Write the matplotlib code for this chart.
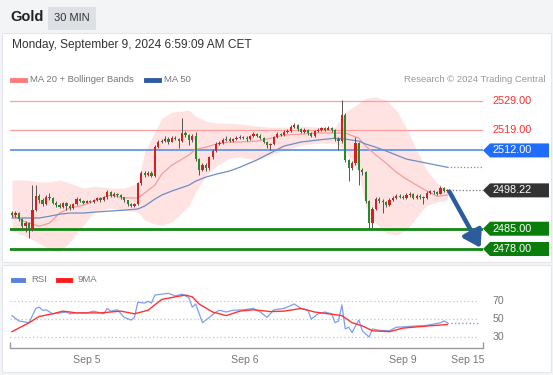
import matplotlib
matplotlib.use("Agg")
import matplotlib.pyplot as plt
from matplotlib.patches import Rectangle, Polygon
from matplotlib.lines import Line2D
from matplotlib.transforms import blended_transform_factory

plt.rcParams['font.family'] = ['Liberation Sans', 'DejaVu Sans']

# 30 min candles, index 0 = first visible bar
first_open = 2490.3
closes = [2489.8, 2490.5, 2488.2, 2486.0, 2486.8, 2484.6, 2491.5, 2496.2, 2495.0, 2493.6,
          2496.0, 2495.6, 2494.0, 2493.2, 2492.6, 2493.8, 2493.0, 2492.3, 2493.5, 2495.2,
          2494.6, 2494.0, 2494.6, 2494.2, 2495.0, 2495.7, 2494.8, 2495.8, 2497.6, 2496.3,
          2496.9, 2496.5, 2495.8, 2494.8, 2493.5, 2493.0, 2493.5, 2500.6, 2504.2, 2503.6,
          2504.3, 2503.2, 2513.2, 2515.0, 2515.4, 2516.1, 2515.0, 2516.3, 2516.0, 2515.3,
          2518.0, 2517.2, 2515.6, 2517.1, 2509.0, 2505.4, 2507.0, 2505.8, 2509.6, 2511.9,
          2514.1, 2514.6, 2515.7, 2516.1, 2515.4, 2515.9, 2516.4, 2516.7, 2516.3, 2516.0,
          2516.9, 2517.6, 2517.1, 2516.3, 2515.0, 2513.7, 2514.1, 2516.6, 2517.7, 2517.3,
          2518.3, 2518.7, 2520.1, 2520.6, 2519.3, 2518.4, 2519.1, 2518.0, 2517.0, 2518.6,
          2519.1, 2519.6, 2519.2, 2519.7, 2519.0, 2516.0, 2515.1, 2524.3, 2508.6, 2506.1,
          2507.6, 2514.4, 2505.1, 2504.6, 2494.6, 2487.1, 2491.8, 2495.4, 2494.6, 2494.1,
          2493.2, 2494.9, 2495.7, 2496.4, 2496.1, 2495.7, 2496.6, 2496.9, 2495.6, 2496.3,
          2495.9, 2495.6, 2497.3, 2497.9, 2497.6, 2497.1, 2499.0, 2498.1, 2498.22]
highs = [2491.0, 2491.2, 2490.9, 2488.6, 2487.5, 2487.2, 2500.0, 2500.0, 2496.8, 2495.5,
         2496.6, 2497.2, 2496.0, 2494.5, 2493.8, 2494.2, 2494.2, 2493.4, 2494.0, 2495.8,
         2495.6, 2494.9, 2495.0, 2495.0, 2495.4, 2496.1, 2496.0, 2496.3, 2498.4, 2498.0,
         2497.5, 2497.2, 2497.0, 2496.0, 2495.0, 2493.9, 2494.0, 2501.2, 2504.8, 2504.8,
         2504.9, 2504.8, 2513.8, 2515.6, 2516.0, 2516.8, 2516.5, 2516.9, 2516.8, 2516.4,
         2523.2, 2518.6, 2517.8, 2517.8, 2518.3, 2509.4, 2507.6, 2507.5, 2510.2, 2512.5,
         2514.8, 2515.3, 2516.3, 2516.9, 2516.5, 2516.4, 2517.0, 2517.2, 2517.1, 2516.8,
         2517.4, 2518.4, 2518.0, 2517.5, 2516.6, 2515.3, 2514.6, 2517.1, 2518.2, 2518.1,
         2518.9, 2519.4, 2520.8, 2521.6, 2521.0, 2519.8, 2519.7, 2519.5, 2518.4, 2519.1,
         2519.8, 2520.2, 2520.1, 2520.3, 2520.2, 2519.4, 2516.5, 2529.3, 2524.8, 2509.0,
         2508.3, 2516.5, 2514.9, 2505.8, 2505.0, 2495.0, 2492.4, 2496.0, 2496.1, 2495.2,
         2494.6, 2495.5, 2496.4, 2497.0, 2496.8, 2496.5, 2497.2, 2497.5, 2497.3, 2496.9,
         2496.8, 2496.4, 2497.9, 2498.5, 2498.4, 2498.0, 2499.9, 2499.4, 2498.7]
lows = [2489.0, 2489.2, 2487.6, 2485.2, 2484.0, 2481.8, 2484.2, 2491.0, 2494.0, 2493.0,
        2493.2, 2495.0, 2493.5, 2492.6, 2492.0, 2492.2, 2491.3, 2491.5, 2491.9, 2493.2,
        2494.1, 2493.6, 2493.7, 2493.8, 2493.9, 2494.7, 2494.3, 2494.5, 2495.4, 2495.9,
        2495.9, 2496.0, 2495.2, 2494.2, 2493.0, 2492.5, 2492.6, 2493.2, 2500.2, 2503.0,
        2503.2, 2502.8, 2503.0, 2512.8, 2514.5, 2515.0, 2514.2, 2514.8, 2515.5, 2512.8,
        2515.0, 2516.5, 2514.0, 2515.0, 2508.5, 2503.6, 2504.8, 2505.0, 2505.4, 2509.2,
        2511.5, 2513.7, 2514.2, 2515.3, 2514.9, 2515.0, 2515.5, 2516.0, 2515.8, 2515.4,
        2515.7, 2516.5, 2516.6, 2515.8, 2514.5, 2512.9, 2512.0, 2513.8, 2516.2, 2516.8,
        2516.9, 2517.9, 2518.3, 2519.8, 2518.8, 2517.9, 2518.0, 2517.4, 2516.5, 2516.7,
        2518.2, 2518.8, 2518.7, 2518.9, 2518.4, 2515.4, 2512.3, 2514.7, 2508.0, 2501.5,
        2505.2, 2506.8, 2500.0, 2503.5, 2494.0, 2485.0, 2485.1, 2491.4, 2494.0, 2490.4,
        2492.6, 2492.8, 2494.4, 2495.3, 2495.6, 2495.1, 2495.3, 2496.1, 2495.1, 2495.2,
        2495.4, 2493.5, 2495.3, 2497.0, 2497.1, 2496.6, 2496.8, 2497.6, 2497.8]

# MA 20, Bollinger bands and MA 50 read at these bars
band_idx = [0, 4, 8, 11, 14, 17, 21, 24, 29, 33, 37, 39, 42, 44, 47, 52, 54, 57, 60, 64,
            67, 72, 76, 80, 85, 90, 95, 98, 102, 104, 107, 110, 113, 116, 119, 122, 125, 128]
bb_upper = [2501.8, 2501.8, 2501.1, 2501.1, 2501.8, 2500.7, 2499.0, 2499.7, 2499.0, 2499.0,
            2500.7, 2511.4, 2518.3, 2523.1, 2525.2, 2525.9, 2523.8, 2522.1, 2521.4, 2521.4,
            2521.1, 2520.4, 2520.0, 2520.0, 2520.4, 2520.0, 2520.0, 2525.2, 2528.3, 2530.0,
            2530.4, 2529.3, 2525.9, 2519.7, 2512.1, 2505.2, 2500.7, 2499.0]
bb_lower = [2484.5, 2482.4, 2480.0, 2477.6, 2476.9, 2480.4, 2486.2, 2490.7, 2492.1, 2491.4,
            2490.7, 2488.0, 2486.6, 2486.2, 2487.3, 2492.8, 2497.6, 2503.1, 2506.6, 2509.3,
            2509.7, 2508.7, 2510.4, 2512.1, 2513.8, 2514.5, 2514.5, 2512.1, 2504.2, 2492.4,
            2486.9, 2483.5, 2482.8, 2484.5, 2489.0, 2493.1, 2494.2, 2494.9]
ma20 = [2489.7, 2487.3, 2485.9, 2486.9, 2490.4, 2492.1, 2493.1, 2494.5, 2496.6, 2495.6,
        2495.6, 2497.3, 2500.0, 2503.8, 2506.9, 2510.4, 2512.4, 2513.1, 2514.2, 2514.9,
        2514.9, 2515.2, 2516.2, 2517.3, 2517.6, 2518.0, 2518.0, 2518.0, 2516.2, 2513.5,
        2510.4, 2507.6, 2504.5, 2502.1, 2500.0, 2498.0, 2496.2, 2496.6]
ma50 = [2488.7, 2488.7, 2488.7, 2489.3, 2490.0, 2490.4, 2490.4, 2490.7, 2491.1, 2491.4,
        2491.8, 2492.8, 2495.2, 2496.6, 2498.0, 2500.0, 2501.4, 2502.8, 2503.8, 2504.9,
        2506.2, 2508.7, 2511.1, 2513.5, 2514.9, 2515.6, 2516.2, 2515.9, 2515.2, 2514.2,
        2513.1, 2511.8, 2510.4, 2509.0, 2508.3, 2507.6, 2506.9, 2506.2]

# RSI and its 9 period MA
rsi_idx = [0, 2, 5, 7, 8, 9, 10, 12, 14, 16, 17, 19, 22, 24, 27, 28, 29, 31, 33, 35,
           36, 37, 39, 40, 41, 42, 44, 46, 48, 50, 52, 53, 54, 56, 58, 60, 61, 63, 65, 68,
           71, 73, 75, 77, 80, 83, 85, 87, 88, 90, 92, 94, 95, 96, 97, 98, 99, 100, 101, 102,
           103, 105, 106, 108, 111, 113, 116, 119, 121, 124, 126, 127, 128]
rsi_val = [54, 48, 46, 62, 63.5, 60, 60.5, 56, 57, 58, 56, 57, 57, 59, 56, 62, 59, 60.5, 52, 49,
           52, 69, 68, 70, 68, 77, 78, 79, 76, 78, 74, 63.5, 67, 46, 52, 58, 60, 58, 60, 60.5,
           62, 58, 52, 60.5, 62, 67, 62, 60, 50, 56, 58, 56, 46, 48, 66, 39, 41, 35, 42.5, 49,
           37, 30, 39, 37.5, 37, 41, 41.5, 42.5, 42.5, 44.5, 46, 48, 46]
rsi_ma_idx = [0, 5, 8, 12, 15, 19, 26, 32, 36, 40, 44, 48, 51, 53, 55, 59, 63, 67, 71, 76,
              80, 85, 89, 93, 97, 100, 103, 106, 111, 115, 121, 128]
rsi_ma_val = [36, 46, 53, 56, 59, 57, 57, 59, 56, 60, 72, 75, 77, 75, 67, 58, 54, 59, 60.5, 58.5,
              59, 62, 58, 56, 54, 46, 42.5, 37, 36, 40, 42, 44]

resistances = [2529.00, 2519.00]
pivot = 2512.00
supports = [2485.00, 2478.00]
last_price = 2498.22
date_ticks = [22, 68.5, 115, 134]
date_labels = ['Sep 5', 'Sep 6', 'Sep 9', 'Sep 15']

W, H = 553, 375
fig = plt.figure(figsize=(W / 100, H / 100), dpi=100)
fig.patch.set_facecolor('#f3f4f6')


def fx(px):
    return px / W


def fy(px):
    return 1 - px / H


# white cards behind the axes
fig.patches.append(Rectangle((fx(2), fy(262)), fx(549), 229 / H, transform=fig.transFigure,
                             facecolor='white', edgecolor='#e3e6ea', lw=0.8, zorder=-5))
fig.patches.append(Rectangle((fx(2), fy(372)), fx(549), 107 / H, transform=fig.transFigure,
                             facecolor='white', edgecolor='#e3e6ea', lw=0.8, zorder=-5))

# header
fig.text(fx(10), fy(17), 'Gold', fontsize=10.5, fontweight='bold', color='#222', va='center')
fig.patches.append(Rectangle((fx(48), fy(30)), fx(48), 23 / H, transform=fig.transFigure,
                             facecolor='#dde0e5', edgecolor='none', zorder=-5))
fig.text(fx(72), fy(18), '30 MIN', fontsize=8, color='#333', va='center', ha='center')
fig.text(fx(12), fy(45), 'Monday, September 9, 2024 6:59:09 AM CET', fontsize=8.6,
         color='#333', va='center')

# main legend
fig.add_artist(Line2D([fx(12), fx(25)], [fy(80), fy(80)], color='#ff7b7b', lw=3.5))
fig.text(fx(30), fy(80), 'MA 20 + Bollinger Bands', fontsize=6.8, color='#777', va='center')
fig.add_artist(Line2D([fx(146), fx(159)], [fy(80), fy(80)], color='#2f5c9e', lw=3.5))
fig.text(fx(164), fy(80), 'MA 50', fontsize=6.8, color='#777', va='center')
fig.text(fx(545), fy(80), 'Research \u00a9 2024 Trading Central', fontsize=6.8, color='#999',
         va='center', ha='right')

# price panel
ax = fig.add_axes([fx(10), fy(258), 473 / W, 165 / H])
ax.set_xlim(-0.59, 138.5)
ax.set_ylim(2474.9, 2531.8)
ax.axis('off')

ax.fill_between(band_idx, bb_lower, bb_upper, color='#ffe3e3', lw=0, zorder=1)
ax.plot(band_idx, ma20, color='#f79c9c', lw=0.9, zorder=2)
ax.plot(band_idx, ma50, color='#6f8cc4', lw=0.9, zorder=2)
ax.hlines(ma50[-1], band_idx[-1], 138.5, colors='#6f8cc4', linestyles=':', lw=0.9)

for r in resistances:
    ax.axhline(r, color='#ff9c9c', lw=0.9, zorder=1.5)
ax.axhline(pivot, color='#6c9cf0', lw=1.4, zorder=1.5)
for s in supports:
    ax.axhline(s, color='#138813', lw=2, zorder=1.5)

opens = [first_open] + closes[:-1]
idx = list(range(len(closes)))
ax.vlines(idx, lows, highs, colors='#555', lw=0.7, zorder=3)
bottoms = [min(o, c) for o, c in zip(opens, closes)]
heights = [max(abs(c - o), 0.15) for o, c in zip(opens, closes)]
colors = ['#d71f1f' if c >= o else '#268a26' for o, c in zip(opens, closes)]
ax.bar(idx, heights, bottom=bottoms, width=0.66, color=colors, lw=0, zorder=4)

ax.hlines(last_price, idx[-1] + 0.5, 138.5, colors='#777', linestyles=':', lw=0.9)
ax.annotate('', xy=(137.8, supports[1] + 0.4), xytext=(idx[-1] + 0.6, last_price - 0.4),
            arrowprops=dict(arrowstyle='-|>,head_length=0.55,head_width=0.35',
                            color='#2d5c9c', lw=3.2, mutation_scale=18,
                            shrinkA=0, shrinkB=0), zorder=6)

# right-hand price tags
tr = blended_transform_factory(ax.transAxes, ax.transData)
hh = 7 * (2531.8 - 2474.9) / 165
for r in resistances:
    ax.text(1.021, r, f'{r:.2f}', transform=tr, fontsize=7.8, color='#ff2b2b', va='center',
            clip_on=False)
for val, fc in [(pivot, '#1f6dff'), (last_price, '#333333'),
                (supports[0], '#0a7d0a'), (supports[1], '#0a7d0a')]:
    poly = Polygon([(1.0, val), (1.0148, val + hh), (1.1395, val + hh), (1.1395, val - hh),
                    (1.0148, val - hh)], closed=True, transform=tr, facecolor=fc,
                   edgecolor='none', clip_on=False, zorder=7)
    ax.add_patch(poly)
    ax.text(1.021, val, f'{val:.2f}', transform=tr, fontsize=7.8, color='white',
            va='center', clip_on=False, zorder=8)

# RSI panel
fig.add_artist(Line2D([fx(13), fx(23)], [fy(280), fy(280)], color='#5b80e0', lw=3.5))
fig.text(fx(31), fy(280), 'RSI', fontsize=6.8, color='#777', va='center')
fig.add_artist(Line2D([fx(58), fx(70)], [fy(280), fy(280)], color='#ff1a1a', lw=3.5))
fig.text(fx(77), fy(280), '9MA', fontsize=6.8, color='#777', va='center')

rax = fig.add_axes([fx(10), fy(348), 473 / W, 60 / H])
rax.set_xlim(-0.59, 138.5)
rax.set_ylim(17.7, 84.9)
for side in ['top', 'right', 'left']:
    rax.spines[side].set_visible(False)
rax.spines['bottom'].set_color('#9a9a9a')
rax.spines['bottom'].set_linewidth(1)
rax.set_yticks([])
rax.set_xticks(date_ticks)
rax.set_xticklabels(date_labels, fontsize=7.6, color='#777')
rax.tick_params(axis='x', length=0, pad=5)
rax.set_xticks([-0.59, 138.5], minor=True)
rax.tick_params(axis='x', which='minor', direction='in', length=4, color='#9a9a9a', width=1)
rax.patch.set_alpha(0)

for lvl in [30, 50, 70]:
    rax.axhline(lvl, xmax=0.99, color='#c4c4c4', lw=0.9, linestyle=(0, (1, 2)))
    rax.text(1.021, lvl, str(lvl), transform=blended_transform_factory(rax.transAxes, rax.transData),
             fontsize=7.6, color='#777', va='center', clip_on=False)

rax.plot(rsi_idx, rsi_val, color='#7e9ef2', lw=0.9)
rax.hlines(rsi_val[-1], rsi_idx[-1], 137.6, colors='#7e9ef2', linestyles=':', lw=1)
rax.plot(rsi_ma_idx, rsi_ma_val, color='#ff3333', lw=1)

fig.savefig('out.png', dpi=100, facecolor=fig.get_facecolor())
